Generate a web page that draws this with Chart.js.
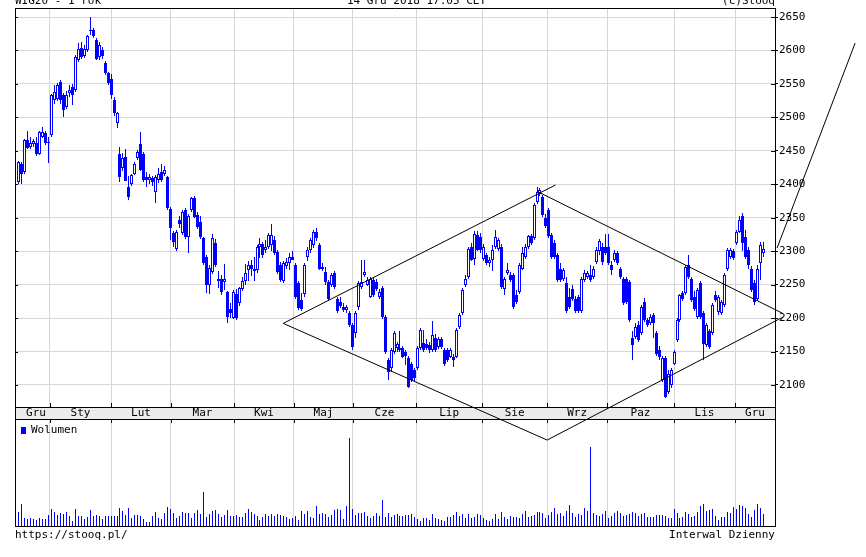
<!DOCTYPE html>
<html>
<head>
<meta charset="utf-8">
<title>WIG20 - 1 rok</title>
<script src="https://cdn.jsdelivr.net/npm/chart.js@4.4.1/dist/chart.umd.min.js"></script>
<style>
    html, body { margin: 0; padding: 0; background: #fff; }
    #wrap { position: relative; width: 866px; height: 557px; overflow: hidden;
            font-family: "DejaVu Sans Mono", monospace; font-size: 11px; color: #000; }
    #wrap canvas { position: absolute; left: 0; top: 0; }
    .txt { position: absolute; white-space: nowrap; line-height: 11px; }
    .sq { display: inline-block; width: 5px; height: 7px; background: #0000ff; margin-right: 5px; vertical-align: -1px; }
</style>
</head>
<body>
<div id="wrap">
    <canvas id="volumeChart" width="866" height="557"></canvas>
    <canvas id="priceChart" width="866" height="557"></canvas>
    <div class="txt" style="left:15px; top:-5px;">WIG20 - 1 rok</div>
    <div class="txt" style="left:347px; top:-5px;">14 Gru 2018 17:05 CET</div>
    <div class="txt" style="right:91px; top:-5px;">(c)Stooq</div>
    <div class="txt" style="left:21px; top:424px;"><span class="sq"></span>Wolumen</div>
    <div class="txt" style="left:15px; top:529px;">https://stooq.pl/</div>
    <div class="txt" style="right:91px; top:529px;">Interwal Dzienny</div>
</div>
<script>
// WIG20 daily candles, Dec 2017 - 14 Dec 2018
const opens = [
    2404,2431,2419,2466,2456,2460,2462,2446,2471,2476,
    2462,2473,2526,2528,2553,2533,2516,2536,2546,2541,
    2586,2603,2592,2600,2629,2630,2615,2591,2600,2582,
    2566,2558,2526,2491,2445,2425,2441,2396,2401,2416,
    2439,2460,2445,2411,2406,2409,2389,2406,2419,2416,
    2411,2363,2327,2303,2347,2327,2361,2321,2361,2379,
    2354,2344,2319,2291,2249,2269,2312,2256,2259,2254,
    2239,2214,2200,2236,2222,2244,2256,2272,2279,2274,
    2272,2307,2310,2302,2307,2309,2317,2299,2279,2256,
    2278,2282,2292,2279,2252,2227,2236,2292,2302,2309,
    2329,2309,2277,2269,2254,2249,2267,2229,2224,2217,
    2212,2207,2190,2178,2217,2247,2265,2250,2232,2257,
    2254,2232,2245,2202,2137,2125,2150,2155,2152,2155,
    2150,2140,2132,2122,2125,2155,2163,2162,2160,2152,
    2170,2157,2168,2153,2152,2142,2142,2142,2187,2207,
    2250,2262,2307,2289,2324,2321,2289,2294,2282,2287,
    2307,2304,2307,2244,2268,2264,2264,2234,2239,2274,
    2292,2307,2322,2319,2374,2386,2381,2349,2361,2324,
    2312,2294,2274,2259,2252,2232,2244,2229,2232,2210,
    2257,2262,2264,2262,2284,2300,2307,2307,2307,2279,
    2287,2297,2274,2259,2259,2254,2170,2172,2190,2177,
    2224,2197,2192,2204,2177,2152,2107,2140,2090,2100,
    2132,2167,2197,2237,2237,2279,2259,2232,2202,2252,
    2207,2160,2180,2177,2234,2209,2207,2219,2274,2292,
    2300,2312,2329,2352,2321,2302,2274,2252,2229,2282,2297
];
const highs = [
    2435,2434,2468,2479,2471,2468,2470,2479,2486,2479,
    2470,2535,2548,2551,2556,2536,2540,2548,2550,2593,
    2611,2612,2608,2623,2650,2633,2618,2612,2605,2585,
    2568,2565,2530,2508,2455,2447,2452,2413,2416,2433,
    2451,2478,2448,2418,2416,2412,2414,2424,2431,2427,
    2413,2366,2330,2331,2353,2362,2364,2356,2381,2383,
    2358,2352,2321,2294,2280,2326,2318,2270,2264,2281,
    2241,2222,2242,2244,2247,2262,2281,2285,2287,2292,
    2309,2319,2313,2316,2327,2341,2322,2302,2284,2285,
    2290,2297,2301,2283,2256,2237,2282,2306,2319,2331,
    2334,2312,2283,2277,2257,2268,2270,2232,2232,2222,
    2220,2210,2192,2211,2255,2287,2287,2262,2262,2261,
    2259,2243,2248,2205,2140,2155,2180,2165,2180,2158,
    2153,2143,2135,2126,2158,2185,2182,2168,2165,2195,
    2176,2172,2172,2156,2155,2156,2146,2185,2208,2245,
    2264,2306,2312,2330,2330,2327,2310,2298,2292,2309,
    2332,2320,2310,2262,2282,2269,2267,2242,2282,2307,
    2310,2324,2326,2372,2396,2394,2384,2356,2364,2327,
    2316,2297,2282,2275,2262,2245,2250,2233,2235,2262,
    2272,2270,2280,2278,2306,2318,2312,2325,2326,2285,
    2302,2300,2277,2262,2262,2257,2180,2192,2195,2220,
    2230,2200,2206,2207,2180,2158,2143,2143,2122,2125,
    2152,2200,2236,2240,2280,2294,2262,2240,2245,2256,
    2210,2193,2184,2222,2240,2235,2227,2267,2305,2305,
    2304,2332,2352,2357,2331,2306,2278,2257,2279,2314,2314
];
const lows = [
    2400,2401,2416,2452,2452,2455,2442,2444,2469,2459,
    2432,2470,2520,2525,2520,2500,2512,2530,2518,2538,
    2583,2588,2589,2597,2623,2618,2586,2586,2587,2564,
    2548,2528,2502,2484,2403,2420,2405,2376,2398,2414,
    2436,2420,2404,2396,2401,2398,2372,2402,2404,2412,
    2362,2317,2306,2300,2334,2324,2318,2297,2358,2349,
    2333,2318,2279,2238,2236,2266,2276,2245,2235,2242,
    2193,2200,2198,2197,2218,2240,2250,2256,2263,2256,
    2268,2290,2290,2298,2304,2301,2294,2266,2254,2253,
    2274,2272,2287,2229,2212,2210,2232,2286,2298,2305,
    2315,2272,2270,2250,2226,2246,2244,2207,2215,2209,
    2208,2187,2153,2170,2212,2244,2262,2248,2230,2232,
    2241,2228,2199,2147,2108,2120,2146,2150,2150,2140,
    2130,2095,2104,2106,2122,2152,2150,2152,2148,2150,
    2150,2154,2154,2128,2134,2140,2127,2140,2184,2204,
    2247,2259,2285,2279,2300,2298,2286,2279,2277,2270,
    2304,2300,2244,2234,2265,2254,2214,2221,2236,2272,
    2289,2304,2309,2316,2370,2383,2351,2334,2319,2289,
    2289,2254,2254,2255,2207,2214,2226,2207,2207,2207,
    2254,2258,2254,2258,2281,2295,2280,2294,2279,2265,
    2284,2279,2259,2219,2221,2194,2138,2168,2164,2174,
    2194,2187,2189,2170,2144,2138,2104,2080,2086,2096,
    2130,2164,2194,2226,2234,2259,2224,2211,2199,2199,
    2138,2157,2154,2174,2224,2205,2204,2216,2271,2289,
    2287,2309,2327,2300,2288,2274,2239,2219,2226,2257,2292
];
const closes = [
    2434,2416,2466,2454,2462,2465,2445,2478,2478,2461,
    2461,2533,2538,2548,2526,2511,2533,2541,2533,2591,
    2602,2591,2602,2621,2631,2621,2588,2608,2592,2566,
    2552,2533,2506,2506,2411,2440,2405,2381,2414,2431,
    2449,2422,2406,2406,2411,2404,2411,2416,2406,2421,
    2364,2334,2313,2329,2341,2359,2321,2352,2379,2351,
    2336,2321,2282,2249,2275,2319,2279,2258,2239,2259,
    2202,2207,2239,2200,2245,2256,2267,2279,2274,2271,
    2307,2311,2294,2307,2324,2324,2297,2269,2257,2282,
    2284,2292,2287,2232,2215,2213,2279,2302,2317,2329,
    2319,2274,2274,2254,2229,2264,2247,2210,2218,2212,
    2217,2190,2157,2208,2252,2254,2269,2257,2259,2235,
    2244,2239,2202,2150,2120,2152,2177,2162,2155,2142,
    2143,2097,2107,2110,2155,2182,2152,2155,2152,2175,
    2152,2168,2157,2132,2137,2152,2137,2182,2205,2242,
    2259,2304,2287,2326,2302,2302,2307,2282,2287,2302,
    2321,2317,2247,2259,2272,2257,2217,2224,2279,2297,
    2307,2322,2312,2369,2389,2391,2354,2337,2322,2292,
    2292,2257,2257,2272,2210,2217,2229,2210,2210,2259,
    2267,2267,2257,2274,2302,2315,2284,2297,2282,2272,
    2297,2282,2262,2222,2224,2197,2160,2187,2167,2217,
    2197,2190,2202,2192,2147,2142,2140,2082,2117,2122,
    2150,2197,2234,2229,2277,2262,2227,2214,2242,2202,
    2162,2190,2157,2219,2227,2232,2224,2264,2302,2302,
    2290,2329,2347,2312,2291,2279,2242,2224,2274,2309,2304
];
const volumes = [
    140,217,83,73,83,73,57,83,73,73,
    107,167,137,107,127,117,137,97,47,167,
    103,97,73,87,157,103,110,103,73,97,
    97,97,97,97,177,147,107,177,77,107,
    107,97,67,37,37,97,137,83,67,127,
    187,167,127,77,97,137,127,127,83,127,
    157,117,337,87,117,147,157,117,87,107,
    157,97,97,107,87,87,127,167,137,117,
    97,57,87,117,97,117,
    97,117,107,97,87,67,77,97,57,147,
    117,147,87,77,197,117,127,117,87,107,
    157,167,157,67,197,877,167,107,127,127,
    137,97,77,97,127,97,257,87,127,87,
    107,117,97,97,107,107,117,87,67,47,
    77,77,57,117,77,67,57,47,87,87,
    107,137,97,117,77,117,77,87,117,107,
    77,57,47,67,117,67,137,87,67,97,
    87,87,
    77,117,147,87,97,107,137,137,127,77,107,
    137,177,117,127,97,147,207,127,87,117,
    107,177,147,787,127,107,97,117,147,77,
    97,127,147,127,97,107,117,137,127,97,
    117,127,87,87,87,107,107,107,97,77,
    77,167,127,77,87,137,117,87,97,137,
    197,217,147,157,167,97,57,87,87,137,
    127,187,167,207,197,177,117,87,157,217,
    177,117
];

const priceTicks = [2100, 2150, 2200, 2250, 2300, 2350, 2400, 2450, 2500, 2550, 2600, 2650];
const monthNames = ['Gru', 'Sty', 'Lut', 'Mar', 'Kwi', 'Maj', 'Cze', 'Lip', 'Sie', 'Wrz', 'Paz', 'Lis', 'Gru'];
// session index where each new month starts (Sty ... Gru)
const monthStarts = [10.5, 31.0, 51.1, 72.3, 92.4, 112.2, 133.4, 155.6, 177.4, 197.5, 220.0, 240.5];

// diamond formation drawn by hand on the chart (session index, price)
const diamondUpperLeft  = [{ x: 180.2, y: 2398.9 }, { x: 88.8, y: 2192.1 }];
const diamondLowerLeft  = [{ x: 177.4, y: 2017.7 }, { x: 88.8, y: 2192.1 }];
const diamondUpperRight = [{ x: 256.6, y: 2206.8 }, { x: 174.0, y: 2389.5 }];
const diamondLowerRight = [{ x: 256.6, y: 2201.6 }, { x: 177.4, y: 2017.7 }];
const targetLine        = [{ x: 280.8, y: 2611.1 }, { x: 254.6, y: 2304.7 }];

const X_MIN = -1.25, X_MAX = 253.9;
const Y_MIN = 2067.1, Y_MAX = 2663.5;
const VOL_MAX = 1070;

const BLUE = '#0000ff';
const GRID = '#d7d7d7';
const FONT = { family: 'DejaVu Sans Mono', size: 11 };

// month label sits in the middle of its month
const labelEdges = [1.1, ...monthStarts, X_MAX];
const labelMap = new Map();
monthNames.forEach((name, k) => labelMap.set((labelEdges[k] + labelEdges[k + 1]) / 2, name));

Chart.defaults.font.family = FONT.family;

// keep thin bars on whole pixels so they stay crisp like the original bitmap
const pixelSnap = {
    id: 'pixelSnap',
    beforeDatasetsDraw(chart) {
        chart.data.datasets.forEach((ds, di) => {
            const meta = chart.getDatasetMeta(di);
            if (meta.type !== 'bar') return;
            meta.data.forEach(el => {
                el.x = Math.floor(el.x) + 0.5;
                let top = Math.round(el.y), base = Math.round(el.base);
                if (Math.abs(top - base) < 1) top = base - 1;
                el.y = top;
                el.base = base;
            });
        });
    }
};

// band under the price panel + frame lines
const priceFrame = {
    id: 'priceFrame',
    beforeDraw(chart) {
        const { ctx, chartArea: a } = chart;
        ctx.save();
        ctx.fillStyle = '#ebebeb';
        ctx.fillRect(a.left, a.bottom, a.right - a.left, 12);
        ctx.restore();
    },
    afterDraw(chart) {
        const { ctx, chartArea: a, scales } = chart;
        ctx.save();
        ctx.strokeStyle = '#000';
        ctx.lineWidth = 1;
        ctx.beginPath();
        ctx.moveTo(a.left, a.top + 0.5); ctx.lineTo(a.right + 1, a.top + 0.5);
        ctx.moveTo(a.left + 0.5, a.top); ctx.lineTo(a.left + 0.5, a.bottom + 12);
        ctx.moveTo(a.left, a.bottom + 0.5); ctx.lineTo(a.right + 1, a.bottom + 0.5);
        ctx.moveTo(a.left, a.bottom + 12.5); ctx.lineTo(a.right + 1, a.bottom + 12.5);
        ctx.moveTo(a.right + 0.5, a.bottom); ctx.lineTo(a.right + 0.5, a.bottom + 12);
        monthStarts.forEach(v => {
            const x = Math.round(scales.x.getPixelForValue(v)) + 0.5;
            ctx.moveTo(x, a.bottom - 4); ctx.lineTo(x, a.bottom);
        });
        priceTicks.forEach(v => {
            const y = Math.round(scales.y.getPixelForValue(v)) + 0.5;
            ctx.moveTo(a.left, y); ctx.lineTo(a.left + 3, y);
            ctx.moveTo(a.right - 4, y); ctx.lineTo(a.right, y);
        });
        ctx.stroke();
        ctx.restore();
    }
};

const volumeFrame = {
    id: 'volumeFrame',
    afterDraw(chart) {
        const { ctx, chartArea: a, scales } = chart;
        ctx.save();
        ctx.strokeStyle = '#000';
        ctx.lineWidth = 1;
        ctx.beginPath();
        ctx.moveTo(a.left + 0.5, a.top); ctx.lineTo(a.left + 0.5, a.bottom + 1);
        ctx.moveTo(a.right + 0.5, a.top); ctx.lineTo(a.right + 0.5, a.bottom + 1);
        monthStarts.forEach(v => {
            const x = Math.round(scales.x.getPixelForValue(v)) + 0.5;
            ctx.moveTo(x, a.top); ctx.lineTo(x, a.top + 4);
        });
        ctx.stroke();
        ctx.restore();
    }
};

function diamondSet(points) {
    return {
        type: 'line',
        data: points,
        borderColor: '#000',
        borderWidth: 1,
        pointRadius: 0,
        tension: 0,
        clip: false,
        order: -1
    };
}

const bodies = opens.map((o, i) => ({ x: i, y: [o, closes[i]] }));
const wicks = lows.map((l, i) => ({ x: i, y: [l, highs[i]] }));

new Chart(document.getElementById('priceChart'), {
    type: 'bar',
    data: {
        datasets: [
            {
                data: bodies,
                backgroundColor: c => closes[c.dataIndex] >= opens[c.dataIndex] ? '#ffffff' : BLUE,
                borderColor: BLUE,
                borderWidth: 1,
                borderSkipped: false,
                barThickness: 3,
                minBarLength: 1,
                inflateAmount: 0,
                grouped: false,
                order: 0
            },
            {
                data: wicks,
                backgroundColor: BLUE,
                borderWidth: 0,
                barThickness: 1,
                inflateAmount: 0,
                grouped: false,
                order: 1
            },
            diamondSet(diamondUpperLeft),
            diamondSet(diamondLowerLeft),
            diamondSet(diamondUpperRight),
            diamondSet(diamondLowerRight),
            diamondSet(targetLine)
        ]
    },
    options: {
        responsive: false,
        animation: false,
        events: [],
        layout: { padding: { left: 15, right: 0, top: 8, bottom: 138 } },
        plugins: { legend: { display: false }, tooltip: { enabled: false } },
        scales: {
            x: {
                type: 'linear',
                min: X_MIN,
                max: X_MAX,
                offset: false,
                afterBuildTicks: s => {
                    const vals = [...monthStarts, ...labelMap.keys()].sort((a, b) => a - b);
                    s.ticks = vals.map(v => ({ value: v }));
                },
                afterFit: s => { s.height = 12; },
                grid: {
                    offset: false,
                    drawTicks: false,
                    color: c => (c.tick && labelMap.has(c.tick.value)) ? 'rgba(0,0,0,0)' : GRID
                },
                border: { color: '#000' },
                ticks: {
                    autoSkip: false,
                    maxRotation: 0,
                    minRotation: 0,
                    padding: 0,
                    color: '#000',
                    font: FONT,
                    callback: v => labelMap.get(v) || ''
                }
            },
            y: {
                type: 'linear',
                position: 'right',
                min: Y_MIN,
                max: Y_MAX,
                afterBuildTicks: s => { s.ticks = priceTicks.map(v => ({ value: v })); },
                afterFit: s => { s.width = 91; },
                grid: { color: GRID, tickColor: '#000', tickLength: 3 },
                border: { color: '#000' },
                ticks: { padding: 1, color: '#000', font: FONT, callback: v => String(v) }
            }
        }
    },
    plugins: [pixelSnap, priceFrame]
});

new Chart(document.getElementById('volumeChart'), {
    type: 'bar',
    data: {
        datasets: [{
            data: volumes.map((v, i) => ({ x: i, y: v })),
            backgroundColor: BLUE,
            borderWidth: 0,
            barThickness: 1,
            inflateAmount: 0
        }]
    },
    options: {
        responsive: false,
        animation: false,
        events: [],
        layout: { padding: { left: 15, right: 91, top: 419, bottom: 31 } },
        plugins: { legend: { display: false }, tooltip: { enabled: false } },
        scales: {
            x: {
                type: 'linear',
                min: X_MIN,
                max: X_MAX,
                offset: false,
                afterBuildTicks: s => { s.ticks = monthStarts.map(v => ({ value: v })); },
                afterFit: s => { s.height = 0; },
                grid: { offset: false, drawTicks: false, color: GRID },
                border: { color: '#000' },
                ticks: { display: false }
            },
            y: { display: false, min: 0, max: VOL_MAX }
        }
    },
    plugins: [pixelSnap, volumeFrame]
});
</script>
</body>
</html>
